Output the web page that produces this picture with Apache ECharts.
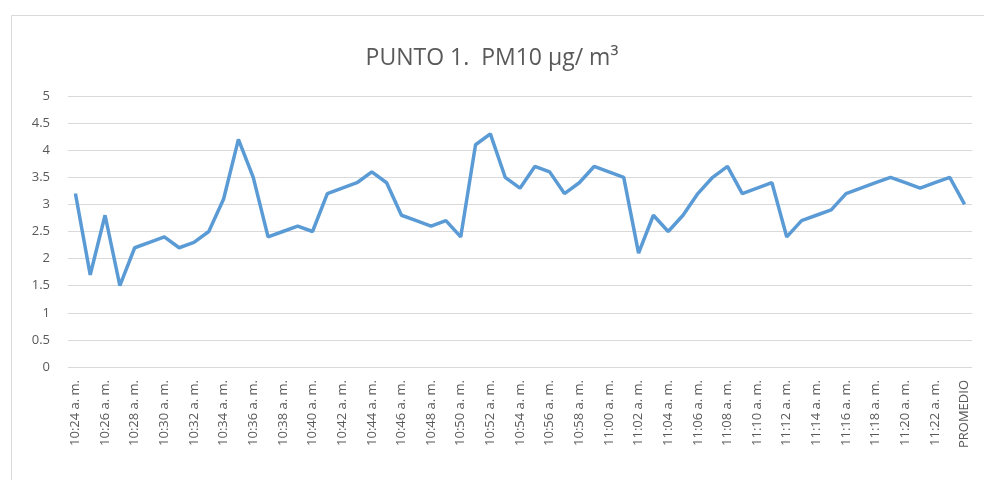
<!DOCTYPE html>
<html>
<head>
    <meta charset="utf-8">
    <title>PUNTO 1. PM10</title>
    <script src="https://cdn.jsdelivr.net/npm/echarts@6/dist/echarts.min.js"></script>
    <style>
        html, body { margin: 0; padding: 0; background: #fff; }
        #chart1 { width: 984px; height: 480px; }
    </style>
</head>
<body>
<div id="chart1"></div>
<script type="text/javascript">
    // horas de medicion, una por minuto, y el promedio al final
    var horas = [
        '10:24 a. m.', '10:25 a. m.', '10:26 a. m.', '10:27 a. m.', '10:28 a. m.', '10:29 a. m.',
        '10:30 a. m.', '10:31 a. m.', '10:32 a. m.', '10:33 a. m.', '10:34 a. m.', '10:35 a. m.',
        '10:36 a. m.', '10:37 a. m.', '10:38 a. m.', '10:39 a. m.', '10:40 a. m.', '10:41 a. m.',
        '10:42 a. m.', '10:43 a. m.', '10:44 a. m.', '10:45 a. m.', '10:46 a. m.', '10:47 a. m.',
        '10:48 a. m.', '10:49 a. m.', '10:50 a. m.', '10:51 a. m.', '10:52 a. m.', '10:53 a. m.',
        '10:54 a. m.', '10:55 a. m.', '10:56 a. m.', '10:57 a. m.', '10:58 a. m.', '10:59 a. m.',
        '11:00 a. m.', '11:01 a. m.', '11:02 a. m.', '11:03 a. m.', '11:04 a. m.', '11:05 a. m.',
        '11:06 a. m.', '11:07 a. m.', '11:08 a. m.', '11:09 a. m.', '11:10 a. m.', '11:11 a. m.',
        '11:12 a. m.', '11:13 a. m.', '11:14 a. m.', '11:15 a. m.', '11:16 a. m.', '11:17 a. m.',
        '11:18 a. m.', '11:19 a. m.', '11:20 a. m.', '11:21 a. m.', '11:22 a. m.', '11:23 a. m.',
        'PROMEDIO'
    ];

    // PM10 en ug/m3
    var pm10 = [
        3.2, 1.7, 2.8, 1.5, 2.2, 2.3, 2.4, 2.2, 2.3, 2.5, 3.1, 4.2,
        3.5, 2.4, 2.5, 2.6, 2.5, 3.2, 3.3, 3.4, 3.6, 3.4, 2.8, 2.7,
        2.6, 2.7, 2.4, 4.1, 4.3, 3.5, 3.3, 3.7, 3.6, 3.2, 3.4, 3.7,
        3.6, 3.5, 2.1, 2.8, 2.5, 2.8, 3.2, 3.5, 3.7, 3.2, 3.3, 3.4,
        2.4, 2.7, 2.8, 2.9, 3.2, 3.3, 3.4, 3.5, 3.4, 3.3, 3.4, 3.5,
        3.0
    ];

    var titulo = 'PUNTO 1.  PM10 \u00b5g/ m\u00b3';

    var myChart1 = echarts.init(document.getElementById('chart1'));

    myChart1.setOption({
        animation: false,
        textStyle: { fontFamily: 'Open Sans' },
        graphic: [{
            type: 'rect',
            left: 9,
            top: 13,
            shape: { width: 974, height: 500 },
            style: { fill: 'none', stroke: '#d9d9d9', lineWidth: 1 },
            silent: true
        }],
        title: {
            text: titulo,
            left: 'center',
            top: 42,
            textStyle: {
                fontFamily: 'Open Sans',
                fontSize: 23,
                fontWeight: 'normal',
                color: '#595959'
            }
        },
        grid: {
            left: 68,
            right: 12,
            top: 96,
            bottom: 113
        },
        xAxis: {
            type: 'category',
            data: horas,
            boundaryGap: true,
            axisLine: { show: false },
            axisTick: { show: false },
            axisLabel: {
                interval: 1,
                rotate: 90,
                margin: 13,
                fontSize: 13,
                color: '#595959'
            }
        },
        yAxis: {
            type: 'value',
            min: 0,
            max: 5,
            interval: 0.5,
            axisLine: { show: false },
            axisTick: { show: false },
            axisLabel: {
                margin: 18,
                fontSize: 13,
                color: '#595959'
            },
            splitLine: {
                lineStyle: { color: '#d9d9d9', width: 1 }
            }
        },
        series: [{
            name: 'PM10',
            type: 'line',
            data: pm10,
            symbol: 'none',
            lineStyle: { color: '#5b9bd5', width: 3.5 }
        }]
    });
</script>
</body>
</html>
